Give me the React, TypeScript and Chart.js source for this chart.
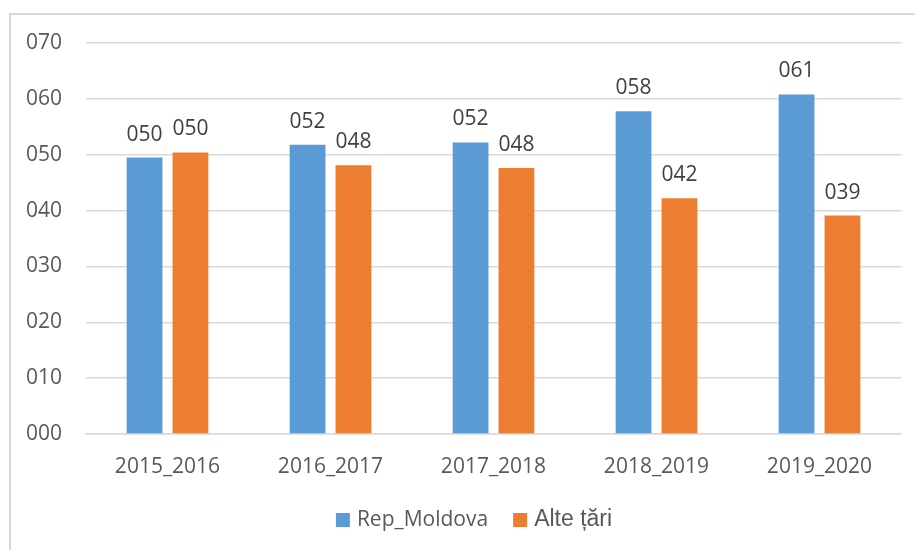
import { useEffect, useRef } from "react";
import { Chart, registerables } from "chart.js";

Chart.register(...registerables);

const categories = ["2015_2016", "2016_2017", "2017_2018", "2018_2019", "2019_2020"];
const repMoldova = [49.5, 51.8, 52.2, 57.8, 60.8];
const alteTari = [50.4, 48.1, 47.6, 42.2, 39.1];
const seriesNames = ["Rep_Moldova", "Alte țări"];
const seriesColors = ["#5B9BD5", "#ED7D31"];
const legendFonts = ["21px 'Open Sans'", "23px 'Liberation Sans'"];
const yMin = 0;
const yMax = 70;
const yStep = 10;

const pad3 = (v: number) => String(Math.round(v)).padStart(3, "0");

const dataLabelPlugin = {
  id: "dataLabels",
  afterDatasetsDraw(chart: any) {
    const ctx = chart.ctx;
    ctx.save();
    ctx.font = "21px 'Open Sans'";
    ctx.fillStyle = "#404040";
    ctx.textAlign = "center";
    ctx.textBaseline = "alphabetic";
    chart.data.datasets.forEach((ds: any, di: number) => {
      const meta = chart.getDatasetMeta(di);
      meta.data.forEach((bar: any, i: number) => {
        ctx.fillText(pad3(ds.data[i]), bar.x, bar.y - 17);
      });
    });
    ctx.restore();
  },
};

const legendPlugin = {
  id: "customLegend",
  afterDraw(chart: any) {
    const ctx = chart.ctx;
    ctx.save();
    const sq = 14;
    const gapText = 7;
    const gapItem = 25;
    const widths = chart.data.datasets.map((ds: any, i: number) => {
      ctx.font = legendFonts[i];
      return ctx.measureText(ds.label).width;
    });
    const total = widths.reduce((a: number, w: number) => a + sq + gapText + w, 0) + gapItem * (widths.length - 1);
    let x = 474 - total / 2;
    const cy = 520;
    chart.data.datasets.forEach((ds: any, i: number) => {
      ctx.fillStyle = ds.backgroundColor;
      ctx.fillRect(x, cy - sq / 2, sq, sq);
      x += sq + gapText;
      ctx.font = legendFonts[i];
      ctx.fillStyle = "#595959";
      ctx.textAlign = "left";
      ctx.textBaseline = "middle";
      ctx.fillText(ds.label, x, cy);
      x += widths[i] + gapItem;
    });
    ctx.restore();
  },
};

export default function App() {
  const canvasRef = useRef<HTMLCanvasElement | null>(null);

  useEffect(() => {
    if (!canvasRef.current) return;
    const chart = new Chart(canvasRef.current, {
      type: "bar",
      data: {
        labels: categories,
        datasets: [
          {
            label: seriesNames[0],
            data: repMoldova,
            backgroundColor: seriesColors[0],
            categoryPercentage: 0.563,
            barPercentage: 0.78,
          },
          {
            label: seriesNames[1],
            data: alteTari,
            backgroundColor: seriesColors[1],
            categoryPercentage: 0.563,
            barPercentage: 0.78,
          },
        ],
      },
      options: {
        responsive: false,
        animation: false,
        devicePixelRatio: 1,
        layout: { padding: { left: 0, right: 14, top: 43, bottom: 0 } },
        plugins: {
          legend: { display: false },
          tooltip: { enabled: false },
        },
        scales: {
          x: {
            grid: { display: false, drawTicks: false },
            border: { display: true, color: "#D9D9D9", width: 1.5 },
            ticks: {
              font: { family: "'Open Sans'", size: 21 },
              color: "#595959",
              padding: 20,
              maxRotation: 0,
            },
            afterFit: (s: any) => {
              s.height = 116;
            },
          },
          y: {
            min: yMin,
            max: yMax,
            grid: { color: "#D9D9D9", lineWidth: 1.5, drawTicks: false },
            border: { display: false },
            ticks: {
              stepSize: yStep,
              font: { family: "'Open Sans'", size: 21 },
              color: "#595959",
              padding: 24,
              callback: (v: any) => pad3(Number(v)),
            },
            afterFit: (s: any) => {
              s.width = 86;
            },
          },
        },
      },
      plugins: [dataLabelPlugin, legendPlugin],
    });
    return () => chart.destroy();
  }, []);

  return (
    <div
      style={{
        position: "fixed",
        left: 0,
        top: 0,
        width: 915,
        height: 550,
        overflow: "hidden",
        background: "#ffffff",
      }}
    >
      <div
        style={{
          position: "absolute",
          left: 9,
          top: 13,
          width: 1200,
          height: 1200,
          border: "2px solid #D9D9D9",
          boxSizing: "border-box",
        }}
      />
      <canvas
        ref={canvasRef}
        width={915}
        height={550}
        style={{ position: "absolute", left: 0, top: 0, width: 915, height: 550 }}
      />
    </div>
  );
}
